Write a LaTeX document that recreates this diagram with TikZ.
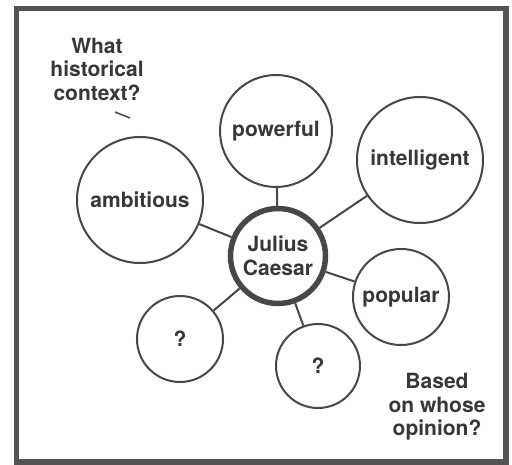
\documentclass[tikz,border=0pt]{standalone}
\usepackage{fontspec}
\setmainfont{TeX Gyre Heros}
\begin{document}
\begin{tikzpicture}[x=1pt,y=-1pt,
  bubble/.style={circle,draw=inkc,line width=2pt,inner sep=0pt,fill=white,
    font=\bfseries\fontsize{21}{23.5}\selectfont,text=textc},
  centre/.style={bubble,line width=5.5pt},
  note/.style={align=center,font=\bfseries\fontsize{21}{23.5}\selectfont,text=textc},
  link/.style={draw=inkc,line width=2pt},
  frame/.style={draw=framec,line width=5.5pt}]
\definecolor{inkc}{HTML}{4A4547}
\definecolor{textc}{HTML}{3A3537}
\definecolor{framec}{HTML}{575254}
\useasboundingbox (0,0) rectangle (512,465);
\draw[frame] (16.5,8.5) rectangle (506,462);
% nodes
\node[centre,minimum size=95pt,align=center] (jc) at (278,256) {Julius\\Caesar};
\node[bubble,minimum size=126pt] (amb) at (140,200) {ambitious};
\node[bubble,minimum size=112pt] (pow) at (276,131) {powerful};
\node[bubble,minimum size=126pt] (int) at (420,160) {intelligent};
\node[bubble,minimum size=96pt] (pop) at (401,297) {popular};
\node[bubble,minimum size=86pt] (q1) at (180,339) {?};
\node[bubble,minimum size=84pt] (q2) at (318,366) {?};
% links
\foreach \n in {amb,pow,int,pop,q1,q2}{\path[link] (jc) -- (\n);}
% notes
\node[note] (ctx) at (97,69) {What\\historical\\context?};
\node[note] (opi) at (437,407) {Based\\on whose\\opinion?};
\coordinate (d1) at (115,112);
\coordinate (d2) at (130,118);
\draw[link,line width=1.5pt] (d1) -- (d2);
\end{tikzpicture}
\end{document}
